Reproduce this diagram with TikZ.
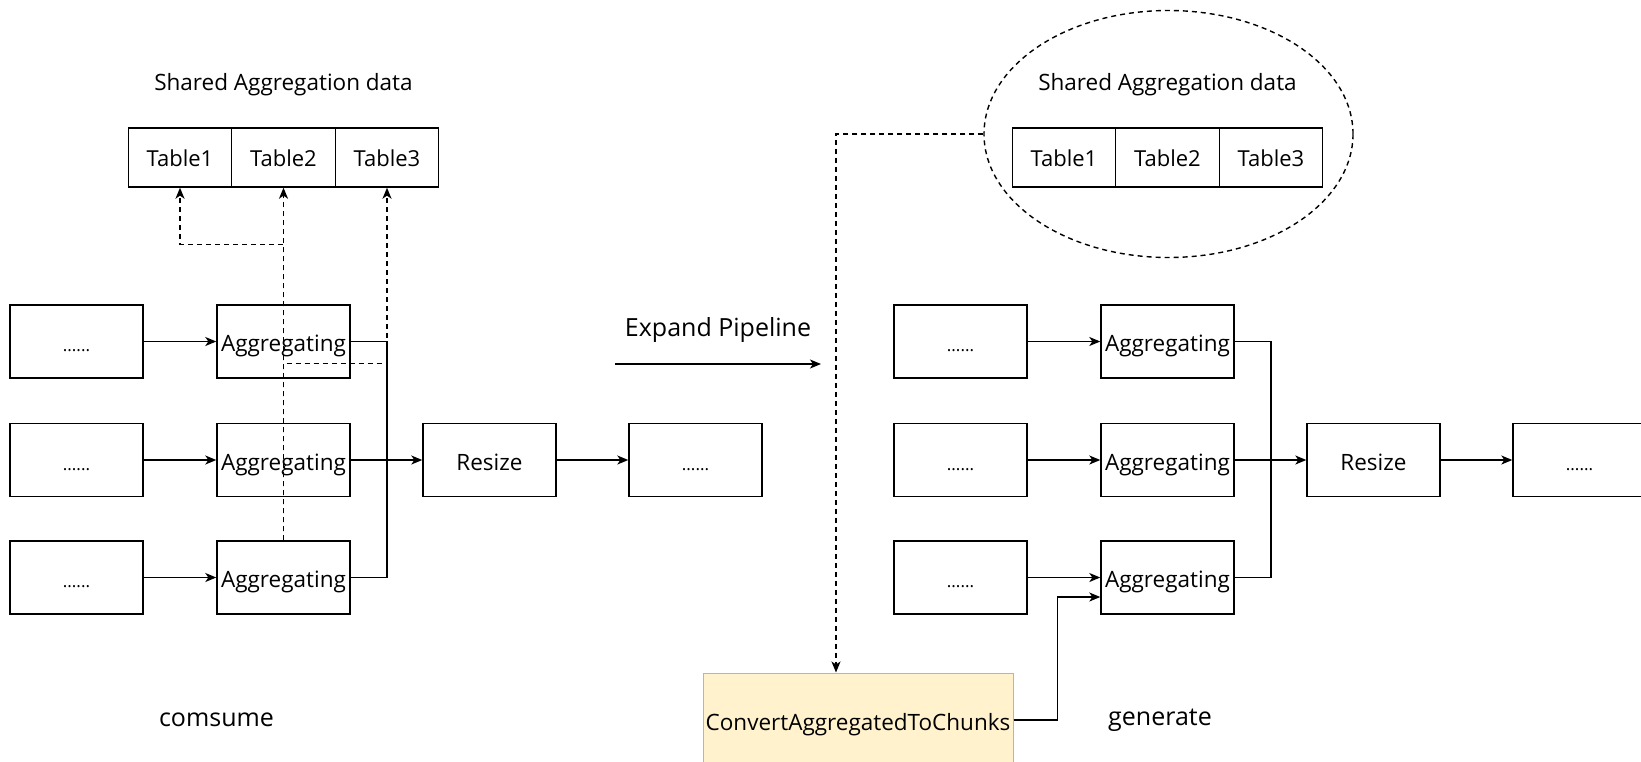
\documentclass[tikz,border=0pt]{standalone}
\usepackage{fontspec}
\setmainfont{Open Sans}
\usetikzlibrary{arrows.meta, shapes.geometric}
\definecolor{convfill}{HTML}{FFF2CC}
\definecolor{convline}{HTML}{D6B656}

\begin{document}
\begin{tikzpicture}[x=1pt, y=-1pt, line width=1.4pt,
    >={Stealth[length=11pt, width=9pt, inset=3pt]},
    box/.style={draw, minimum width=133pt, minimum height=73pt, inner sep=0pt,
      text height=20pt, text depth=0pt, font=\fontsize{22.5}{27}\selectfont},
    dots/.style={box, font=\fontsize{17}{20}\selectfont},
    tbl/.style={box, minimum width=103.5pt, minimum height=59pt, text height=18pt, font=\fontsize{22}{26}\selectfont},
    ttl/.style={font=\fontsize{22.5}{27}\selectfont},
    big/.style={font=\fontsize{25}{30}\selectfont},
    dsh/.style={dash pattern=on 5pt off 4pt}]
    \path[use as bounding box, clip] (0,0) rectangle (1641,761);

    % consume side
    \node[ttl] (ltitle) at (283.5,85) {Shared Aggregation data};
    \node[tbl] (lt1) at (180,157.5) {Table1};
    \node[tbl] (lt2) at (283.5,157.5) {Table2};
    \node[tbl] (lt3) at (387,157.5) {Table3};
    \node[dots] (ls1) at (76.5,341.5) {......};
    \node[dots] (ls2) at (76.5,460) {......};
    \node[dots] (ls3) at (76.5,577.5) {......};
    \node[box] (la1) at (283.5,341.5) {Aggregating};
    \node[box] (la2) at (283.5,460) {Aggregating};
    \node[box] (la3) at (283.5,577.5) {Aggregating};
    \node[box] (lr) at (489.5,460) {Resize};
    \node[dots] (lo) at (695.5,460) {......};
    \coordinate (lb) at (387,460);
    \draw[->] (ls1) -- (la1);
    \draw[->] (ls2) -- (la2);
    \draw[->] (ls3) -- (la3);
    \draw (la1) -| (lb);
    \draw (la3) -| (lb);
    \draw[->] (la2) -- (lr);
    \draw[->] (lr) -- (lo);
    \draw[dsh,->] (la3.north) -- ++(0,-296) -| (lt1);
    \draw[dsh,->] (la3.north) -- (lt2);
    \draw[dsh,->] (la3.north) -- ++(0,-177) -| (lt3);
    \node[big] (lcap) at (216.5,720) {comsume};

    % expand
    \node[big] (xp) at (718,330) {Expand Pipeline};
    \coordinate (x1) at (615,364);
    \coordinate (x2) at (821,364);
    \draw[->] (x1) -- (x2);

    % generate side
    \node[draw, dsh, ellipse, minimum width=369pt, minimum height=247pt, inner sep=0pt] (ell) at (1168.5,134) {};
    \node[ttl] (rtitle) at (1167.5,85) {Shared Aggregation data};
    \node[tbl] (rt1) at (1064,157.5) {Table1};
    \node[tbl] (rt2) at (1167.5,157.5) {Table2};
    \node[tbl] (rt3) at (1271,157.5) {Table3};
    \node[dots] (rs1) at (960.5,341.5) {......};
    \node[dots] (rs2) at (960.5,460) {......};
    \node[dots] (rs3) at (960.5,577.5) {......};
    \node[box] (ra1) at (1167.5,341.5) {Aggregating};
    \node[box] (ra2) at (1167.5,460) {Aggregating};
    \node[box] (ra3) at (1167.5,577.5) {Aggregating};
    \node[box] (rr) at (1373.5,460) {Resize};
    \node[dots] (ro) at (1579.5,460) {......};
    \coordinate (rb) at (1271,460);
    \draw[->] (rs1) -- (ra1);
    \draw[->] (rs2) -- (ra2);
    \draw[->] (rs3) -- (ra3);
    \draw (ra1) -| (rb);
    \draw (ra3) -| (rb);
    \draw[->] (ra2) -- (rr);
    \draw[->] (rr) -- (ro);
    \node[box, fill=convfill, draw=convline, line width=1pt, minimum width=310pt, minimum height=94pt] (conv) at (858,720) {ConvertAggregatedToChunks};
    \draw[dsh,->] (ell.west) -| ([xshift=-22pt]conv.north);
    \draw[->] (conv.east) -- ++(44,0) |- ([yshift=-19.5pt]ra3.west);
    \node[big] (rcap) at (1160,720) {generate};
\end{tikzpicture}
\end{document}
